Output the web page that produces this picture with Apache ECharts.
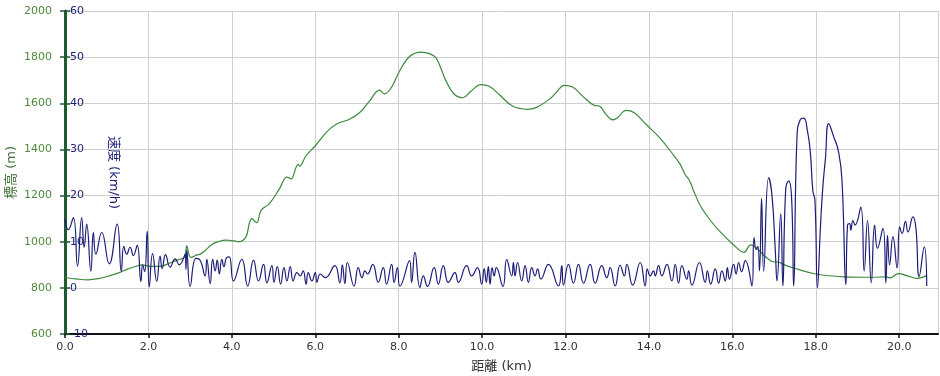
<!DOCTYPE html>
<html>
<head>
<meta charset="utf-8">
<script src="https://cdn.jsdelivr.net/npm/echarts@6/dist/echarts.min.js"></script>
<style>
  html, body { margin: 0; padding: 0; background: #fff; }
  #chart { width: 940px; height: 376px; }
</style>
</head>
<body>
<div id="chart"></div>
<script>
// elevation profile (km, m)
var elevKm = [0.00, 0.30, 0.55, 0.80, 1.08, 1.30, 1.48, 1.70, 1.85, 2.04, 2.28, 2.45, 2.60, 2.75, 2.86, 2.92, 2.97, 3.02, 3.16, 3.23,
    3.36, 3.54, 3.70, 3.86, 4.00, 4.18, 4.34, 4.42, 4.48, 4.54, 4.60, 4.70, 4.90, 5.14, 5.32, 5.42, 5.54, 5.59, 5.62, 5.78,
    6.00, 6.26, 6.50, 6.82, 7.06, 7.30, 7.54, 7.66, 7.82, 8.02, 8.26, 8.54, 8.74, 8.90, 9.14, 9.34, 9.54, 9.73, 9.97, 10.17,
    10.41, 10.73, 11.09, 11.29, 11.61, 11.77, 11.97, 12.17, 12.41, 12.69, 12.81, 12.97, 13.13, 13.25, 13.45, 13.65, 13.93, 14.25, 14.57, 14.75,
    14.87, 14.95, 15.01, 15.07, 15.23, 15.47, 15.71, 16.03, 16.28, 16.44, 16.63, 16.83, 17.00, 17.10, 17.20, 17.47, 18.00, 18.66, 19.35, 19.70,
    19.78, 19.98, 20.20, 20.42, 20.66];
var elevM = [845, 838, 835, 840, 853, 866, 880, 893, 900, 893, 893, 903, 914, 924, 932, 982, 945, 932, 943, 945,
    962, 990, 1002, 1007, 1005, 1000, 1022, 1080, 1100, 1090, 1083, 1136, 1165, 1229, 1280, 1272, 1323, 1335, 1328, 1373,
    1416, 1473, 1509, 1531, 1559, 1609, 1657, 1641, 1667, 1739, 1803, 1822, 1815, 1796, 1695, 1638, 1624, 1652, 1681, 1674,
    1638, 1588, 1574, 1581, 1617, 1645, 1678, 1671, 1631, 1591, 1588, 1552, 1528, 1538, 1569, 1559, 1509, 1452, 1380, 1335,
    1290, 1272, 1250, 1221, 1157, 1093, 1043, 986, 954, 986, 964, 929, 912, 912, 903, 886, 860, 848, 846, 848,
    843, 862, 852, 841, 853];

// speed (km, km/h)
var speedKm = [0.00, 0.08, 0.20, 0.30, 0.40, 0.46, 0.52, 0.62, 0.68, 0.74, 0.88, 1.06, 1.25, 1.35, 1.41, 1.48, 1.56, 1.64, 1.73, 1.82,
    1.86, 1.91, 1.97, 2.02, 2.10, 2.20, 2.28, 2.33, 2.41, 2.52, 2.64, 2.74, 2.88, 2.90, 2.92, 3.00, 3.14, 3.24, 3.36, 3.40,
    3.48, 3.54, 3.60, 3.65, 3.70, 3.76, 3.81, 3.88, 3.94, 4.04, 4.24, 4.38, 4.52, 4.64, 4.76, 4.84, 4.96, 5.01, 5.09, 5.17,
    5.25, 5.32, 5.40, 5.47, 5.56, 5.64, 5.71, 5.78, 5.83, 5.92, 6.00, 6.04, 6.12, 6.24, 6.47, 6.59, 6.65, 6.71, 6.77, 6.93,
    7.03, 7.12, 7.19, 7.25, 7.38, 7.51, 7.63, 7.71, 7.83, 7.89, 7.97, 8.03, 8.26, 8.31, 8.39, 8.51, 8.59, 8.69, 8.85, 8.95,
    9.07, 9.19, 9.35, 9.43, 9.63, 9.75, 9.89, 9.99, 10.05, 10.10, 10.15, 10.19, 10.24, 10.29, 10.34, 10.50, 10.59, 10.71, 10.75, 10.79,
    10.85, 10.95, 11.03, 11.11, 11.19, 11.27, 11.33, 11.41, 11.59, 11.83, 11.91, 11.95, 12.07, 12.19, 12.31, 12.43, 12.59, 12.71, 12.87, 12.99,
    13.07, 13.19, 13.31, 13.41, 13.47, 13.61, 13.79, 13.91, 13.96, 14.03, 14.11, 14.15, 14.23, 14.31, 14.43, 14.55, 14.63, 14.71, 14.79, 14.91,
    14.95, 15.03, 15.21, 15.35, 15.40, 15.48, 15.59, 15.67, 15.75, 15.83, 15.88, 15.93, 16.03, 16.09, 16.15, 16.22, 16.31, 16.47, 16.52, 16.57,
    16.61, 16.65, 16.70, 16.75, 16.87, 16.95, 17.03, 17.07, 17.16, 17.21, 17.28, 17.35, 17.42, 17.47, 17.55, 17.63, 17.71, 17.80, 17.87, 17.93,
    17.98, 18.04, 18.11, 18.17, 18.23, 18.31, 18.42, 18.55, 18.63, 18.72, 18.76, 18.81, 18.84, 18.89, 18.94, 19.08, 19.16, 19.24, 19.33, 19.41,
    19.48, 19.61, 19.68, 19.72, 19.77, 19.85, 19.95, 20.01, 20.07, 20.15, 20.21, 20.33, 20.40, 20.48, 20.60, 20.66];
var speedKmh = [15.0, 12.6, 15.2, 4.7, 15.2, 8.8, 13.8, 3.6, 12.0, 7.3, 12.0, 5.2, 13.8, 3.6, 9.0, 7.3, 8.8, 7.0, 9.2, 1.4,
    5.0, 3.5, 12.3, 0.2, 7.4, 1.4, 6.9, 4.2, 7.2, 4.5, 6.3, 5.0, 7.3, 4.0, 8.2, 0.3, 6.4, 6.0, 2.6, 6.2,
    0.9, 6.2, 3.7, 6.0, 3.0, 6.2, 4.6, 6.6, 6.7, 1.5, 6.2, 0.4, 6.0, 1.5, 5.1, 1.1, 4.8, 1.2, 4.6, 0.8,
    4.4, 1.5, 4.6, 1.5, 3.3, 2.6, 3.7, 0.8, 3.3, 1.5, 3.3, 1.2, 3.0, 2.2, 4.8, 1.1, 5.0, 0.9, 5.5, 0.4,
    4.4, 2.2, 3.7, 3.0, 5.1, 1.2, 4.4, 0.8, 5.1, 1.2, 4.4, 0.4, 5.9, 1.2, 7.7, 0.1, 2.6, 0.3, 4.4, 0.8,
    4.8, 1.2, 3.3, 1.2, 4.8, 2.6, 4.4, 0.8, 4.2, 1.2, 4.6, 0.8, 4.4, 2.6, 4.4, 0.3, 6.1, 2.6, 5.5, 2.6,
    5.5, 1.5, 4.8, 1.2, 4.4, 2.6, 4.1, 1.9, 5.1, 0.4, 4.8, 0.6, 5.1, 1.0, 5.1, 1.0, 5.1, 1.0, 4.8, 2.2,
    4.4, 0.4, 4.9, 2.6, 5.1, 0.6, 5.5, 0.4, 4.1, 2.6, 3.7, 2.6, 4.8, 2.6, 5.1, 1.5, 5.1, 1.0, 4.8, 1.9,
    3.7, 0.6, 5.5, 1.2, 3.7, 0.8, 4.1, 1.0, 3.7, 1.5, 4.4, 1.9, 5.1, 3.0, 5.5, 3.5, 5.9, 0.4, 10.9, 8.3,
    9.0, 3.7, 19.4, 3.6, 23.9, 20.0, 8.0, 1.5, 16.1, 0.4, 21.5, 23.2, 19.5, 0.4, 32.9, 36.5, 36.8, 34.0, 29.3, 21.0,
    19.0, 0.0, 12.9, 22.0, 27.9, 35.6, 33.0, 29.3, 22.9, 0.7, 13.6, 13.9, 12.5, 14.6, 13.6, 17.5, 3.6, 14.6, 1.1, 13.6,
    8.6, 12.9, 1.1, 11.4, 5.0, 11.1, 4.3, 13.2, 11.8, 14.4, 12.1, 15.4, 13.0, 2.5, 8.9, 0.4];

var elevTicks = [600, 800, 1000, 1200, 1400, 1600, 1800, 2000];
var speedTicks = [-10, 0, 10, 20, 30, 40, 50, 60];

var GREEN = '#3c8a3c';
var NAVY = '#1c1c78';
var FONT = '"DejaVu Sans", "Noto Sans CJK JP", sans-serif';

var chart = echarts.init(document.getElementById('chart'));

function pairs(xs, ys) {
    var out = [];
    for (var i = 0; i < xs.length; i++) {
        out.push([xs[i], ys[i]]);
    }
    return out;
}

var option = {
    animation: false,
    textStyle: { fontFamily: FONT },
    grid: { left: 65, right: 2, top: 11, bottom: 42, outerBoundsMode: 'none' },
    xAxis: {
        type: 'value',
        min: 0,
        max: 20.93,
        interval: 2,
        name: '距離 (km)',
        nameLocation: 'middle',
        nameGap: 26,
        nameTextStyle: { color: '#333', fontSize: 13, fontFamily: FONT },
        axisLine: { onZero: false, lineStyle: { color: '#111', width: 2 } },
        axisTick: { length: 4, lineStyle: { color: '#111', width: 1.5 } },
        axisLabel: {
            color: '#333', fontSize: 11, margin: 8, showMaxLabel: false,
            formatter: function(v) { return v.toFixed(1); }
        },
        splitLine: { lineStyle: { color: '#cfcfcf', width: 1 } }
    },
    yAxis: [
        {
            type: 'value',
            position: 'left',
            min: elevTicks[0],
            max: elevTicks[elevTicks.length - 1],
            interval: 200,
            name: '標高 (m)',
            nameLocation: 'middle',
            nameGap: 47,
            nameMoveOverlap: false,
            nameTextStyle: { color: '#3f6e36', fontSize: 13, fontFamily: FONT },
            axisLine: { show: true, onZero: false, lineStyle: { color: '#1f5a30', width: 3 } },
            axisTick: { show: true, length: 5, lineStyle: { color: '#1f5a30', width: 1.5 } },
            axisLabel: { color: '#4f8a3c', fontSize: 11, margin: 13, formatter: function(v) { return String(v); } },
            splitLine: { lineStyle: { color: '#cfcfcf', width: 1 } }
        },
        {
            type: 'value',
            position: 'left',
            min: speedTicks[0],
            max: speedTicks[speedTicks.length - 1],
            interval: 10,
            name: '速度 (km/h)',
            nameLocation: 'middle',
            nameRotate: -90,
            nameGap: -55,
            nameMoveOverlap: false,
            nameTextStyle: { color: NAVY, fontSize: 13, fontFamily: FONT },
            axisLine: { show: false, onZero: false },
            axisTick: { show: true, inside: true, length: 5, lineStyle: { color: '#1f5a30', width: 1.5 } },
            axisLabel: { inside: true, color: NAVY, fontSize: 11, margin: 5 },
            splitLine: { show: false }
        }
    ],
    series: [
        {
            name: '標高',
            type: 'line',
            yAxisIndex: 0,
            smooth: 0.4,
            symbol: 'none',
            lineStyle: { color: GREEN, width: 1.2 },
            data: pairs(elevKm, elevM),
            z: 2
        },
        {
            name: '速度',
            type: 'line',
            yAxisIndex: 1,
            smooth: 0.5,
            symbol: 'none',
            lineStyle: { color: NAVY, width: 1.2 },
            data: pairs(speedKm, speedKmh),
            z: 3
        }
    ]
};

chart.setOption(option);
</script>
</body>
</html>
